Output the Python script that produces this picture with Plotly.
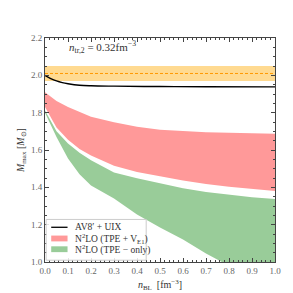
import plotly.graph_objects as go

# data
n_av = [0.0, 0.025, 0.05, 0.075, 0.1, 0.15, 0.2, 0.3, 0.5, 0.7, 1.0]
m_av = [2.0, 1.983, 1.97, 1.961, 1.955, 1.947, 1.944, 1.942, 1.940, 1.939, 1.938]

obs_center = 2.01
obs_low = 1.97
obs_high = 2.05

n_band = [0.0, 0.05, 0.1, 0.15, 0.2, 0.3, 0.4, 0.5, 0.6, 0.7, 0.8, 0.9, 1.0]
red_upper = [1.91, 1.862, 1.83, 1.802, 1.778, 1.748, 1.725, 1.708, 1.70, 1.695, 1.692, 1.689, 1.687]
red_lower = [1.83, 1.72, 1.655, 1.605, 1.57, 1.515, 1.482, 1.46, 1.437, 1.418, 1.403, 1.39, 1.38]
green_upper = [1.812, 1.70, 1.635, 1.585, 1.545, 1.48, 1.448, 1.42, 1.395, 1.375, 1.36, 1.347, 1.337]
green_lower = [1.80, 1.67, 1.555, 1.47, 1.41, 1.34, 1.255, 1.185, 1.12, 1.045, 0.98, 0.93, 0.88]

legend_labels = ["AV8′ + UIX", "N<sup>2</sup>LO (TPE + V<sub>E1</sub>)", "N<sup>2</sup>LO (TPE − only)"]

x_range = [0.0, 1.0]
y_range = [1.0, 2.2]

FONT = "Liberation Serif"
RED = "#ff9999"
GREEN = "#99cc99"

fig = go.Figure()

# observational band
fig.add_trace(go.Scatter(
    x=[x_range[0], x_range[1], x_range[1], x_range[0]],
    y=[obs_low, obs_low, obs_high, obs_high],
    fill="toself", fillcolor="rgb(255,218,145)", line=dict(width=0),
    mode="lines", showlegend=False, hoverinfo="skip"))
fig.add_trace(go.Scatter(
    x=x_range, y=[obs_center, obs_center], mode="lines",
    line=dict(color="#ff9900", width=1, dash="3px,2px"), showlegend=False))

# red band
fig.add_trace(go.Scatter(
    x=n_band + n_band[::-1], y=red_upper + red_lower[::-1],
    fill="toself", fillcolor=RED, line=dict(width=0), mode="lines",
    showlegend=False, name=legend_labels[1]))
# green band
fig.add_trace(go.Scatter(
    x=n_band + n_band[::-1], y=green_upper + green_lower[::-1],
    fill="toself", fillcolor=GREEN, line=dict(width=0), mode="lines",
    showlegend=False, name=legend_labels[2]))
# AV8' + UIX
fig.add_trace(go.Scatter(
    x=n_av, y=m_av, mode="lines", line=dict(color="black", width=1.4, shape="spline"),
    showlegend=False, name=legend_labels[0]))

axis_common = dict(
    showgrid=False, zeroline=False, showline=True, linecolor="#444", linewidth=1,
    mirror="ticks", ticks="inside", ticklen=4, tickcolor="#444",
    tickfont=dict(family=FONT, size=9, color="#666"),
)

fig.update_xaxes(range=x_range, dtick=0.1, tickformat=".1f",
                 minor=dict(dtick=0.02, ticks="inside", ticklen=2, tickcolor="#444"),
                 title=dict(text="<i>n</i><sub>BL</sub>  [fm<sup>−3</sup>]",
                            font=dict(family=FONT, size=10, color="#333"), standoff=6),
                 **axis_common)
fig.update_yaxes(range=y_range, dtick=0.2, tickformat=".1f",
                 minor=dict(dtick=0.05, ticks="inside", ticklen=2, tickcolor="#444"),
                 title=dict(text="<i>M</i><sub>max</sub> [<i>M</i><sub>⊙</sub>]",
                            font=dict(family=FONT, size=10, color="#333"), standoff=4),
                 **axis_common)

fig.add_annotation(x=0.095, y=2.15, xref="x", yref="y", xanchor="left", showarrow=False,
                   text="<i>n</i><sub>tr,2</sub> = 0.32fm<sup>−3</sup>",
                   font=dict(family=FONT, size=11, color="#333"))

# hand-built legend (compact, matplotlib-like)
XR, YR = "x domain", "y domain"
fig.add_shape(type="rect", xref=XR, yref=YR, x0=0.005, x1=0.44, y0=0.008, y1=0.19,
              line=dict(color="#cccccc", width=1), fillcolor="rgba(255,255,255,0.85)", layer="above")
fig.add_shape(type="line", xref=XR, yref=YR, x0=0.027, x1=0.098, y0=0.155, y1=0.155,
              line=dict(color="black", width=1.3), layer="above")
fig.add_shape(type="rect", xref=XR, yref=YR, x0=0.027, x1=0.098, y0=0.092, y1=0.118,
              line=dict(width=0), fillcolor=RED, layer="above")
fig.add_shape(type="rect", xref=XR, yref=YR, x0=0.027, x1=0.098, y0=0.044, y1=0.070,
              line=dict(width=0), fillcolor=GREEN, layer="above")
for lab, yy in zip(legend_labels, [0.155, 0.105, 0.057]):
    fig.add_annotation(x=0.122, y=yy, xref=XR, yref=YR, xanchor="left", yanchor="middle",
                       showarrow=False, text=lab, font=dict(family=FONT, size=9.5, color="#333"))

fig.update_layout(
    width=293, height=293,
    margin=dict(l=33, r=26, t=30, b=29),
    plot_bgcolor="white", paper_bgcolor="white",
    font=dict(family=FONT, size=9, color="#333"),
    showlegend=False,
)

fig.write_html("out.html")
